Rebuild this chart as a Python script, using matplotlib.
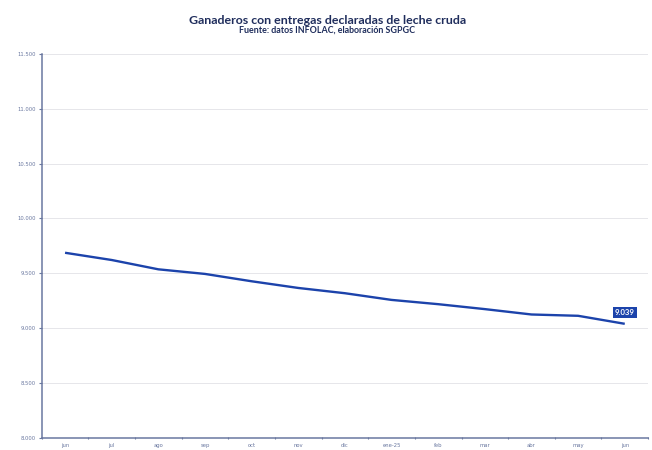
import matplotlib

matplotlib.use("Agg")
import matplotlib.pyplot as plt
import numpy as np

months = ["jun", "jul", "ago", "sep", "oct", "nov", "dic", "ene-25",
          "feb", "mar", "abr", "may", "jun"]
ganaderos = [9687, 9621, 9536, 9494, 9427, 9366, 9318, 9257,
             9218, 9173, 9124, 9112, 9039]
y_ticks = [8000, 8500, 9000, 9500, 10000, 10500, 11000, 11500]
y_labels = ["8.000", "8.500", "9.000", "9.500", "10.000", "10.500",
            "11.000", "11.500"]

navy = "#1f2d5c"
blue = "#1c43ab"
axis_col = "#6a78a0"

fig = plt.figure(figsize=(6.52, 4.5), dpi=100)
ax = fig.add_axes([0.064, 0.0273, 0.93, 0.8527])

x = np.arange(len(months))
ax.plot(x, ganaderos, color=blue, lw=1.7, solid_capstyle="butt")

ax.set_xlim(-0.5, len(months) - 0.5)
ax.set_ylim(8000, 11500)
ax.set_yticks(y_ticks)
ax.set_yticklabels(y_labels)
ax.set_xticks(x)
ax.set_xticklabels(months)
ax.set_xticks(np.arange(-0.5, len(months) - 0.4, 1.0), minor=True)
ax.tick_params(axis="x", which="major", length=0, pad=4,
               labelsize=3.8, labelcolor=axis_col)
ax.tick_params(axis="x", which="minor", length=2, width=0.8,
               color=axis_col, direction="inout")
ax.tick_params(axis="y", length=2, width=0.8, color=axis_col,
               labelsize=3.8, labelcolor=axis_col, pad=2)

ax.grid(axis="y", color="#e6e6ea", lw=0.7)
ax.set_axisbelow(True)
for s in ["top", "right"]:
    ax.spines[s].set_visible(False)
for s in ["left", "bottom"]:
    ax.spines[s].set_color(axis_col)
    ax.spines[s].set_linewidth(1.1)

# last value label
ax.annotate(f"{ganaderos[-1]:,}".replace(",", "."), (x[-1], ganaderos[-1]),
            xytext=(0, 8), textcoords="offset points", ha="center",
            va="center", color="white", fontsize=5.6, fontweight="bold",
            family="Lato",
            bbox=dict(boxstyle="square,pad=0.25", fc=blue, ec="none"))

fig.text(0.502, 0.955, "Ganaderos con entregas declaradas de leche cruda",
         ha="center", va="center", fontsize=8.95, fontweight="bold",
         color=navy, family="Lato")
fig.text(0.502, 0.932, "Fuente: datos INFOLAC, elaboración SGPGC",
         ha="center", va="center", fontsize=6.4, fontweight="bold",
         color=navy, family="Lato")

fig.savefig("out.png", dpi=100)
